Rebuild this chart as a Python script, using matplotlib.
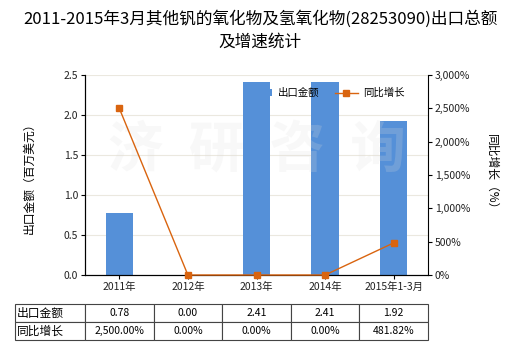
import numpy as np
import matplotlib
matplotlib.use("Agg")
import matplotlib.pyplot as plt
from matplotlib.ticker import FuncFormatter

plt.rcParams['font.family'] = ['Noto Sans CJK SC', 'DejaVu Sans']

years = ['2011年', '2012年', '2013年', '2014年', '2015年1-3月']
export_values = [0.78, 0.00, 2.41, 2.41, 1.92]
growth_rates = [2500.00, 0.00, 0.00, 0.00, 481.82]
export_labels = ['0.78', '0.00', '2.41', '2.41', '1.92']
growth_labels = ['2,500.00%', '0.00%', '0.00%', '0.00%', '481.82%']

bar_color = '#5590d8'
line_color = '#d9640f'

fig = plt.figure(figsize=(5.2, 3.5), dpi=100)
ax = fig.add_axes([85/520, 75/350, 343/520, 200/350])
ax2 = ax.twinx()

x = np.arange(len(years))
bars = ax.bar(x, export_values, width=0.4, color=bar_color, zorder=2, label='出口金额')
ax.set_xlim(-0.5, len(years) - 0.5)
ax.set_ylim(0, 2.5)
ax.set_yticks(np.arange(0, 2.51, 0.5))
ax.yaxis.set_major_formatter(FuncFormatter(lambda v, p: f'{v:.1f}'))
ax.set_xticks(x)
ax.set_xticklabels(years)
ax.grid(axis='y', color='#ebe8df', linewidth=0.8, zorder=0)
ax.set_axisbelow(True)

# faint watermark
ax.text(0.5, 0.62, '济  研  咨  询', transform=ax.transAxes, ha='center', va='center',
        fontsize=40, color='#dddddd', alpha=0.2, fontweight='bold', zorder=3)

line, = ax2.plot(x, growth_rates, color=line_color, linewidth=1, marker='s',
                 markersize=4.5, clip_on=False, zorder=4, label='同比增长')
ax2.set_ylim(0, 3000)
ax2.set_yticks(np.arange(0, 3001, 500))
ax2.yaxis.set_major_formatter(FuncFormatter(lambda v, p: f'{int(v):,}%'))

for a in (ax, ax2):
    a.spines['top'].set_visible(False)
    a.tick_params(labelsize=7.5, length=3, color='black', labelcolor='#222222', pad=2)
ax.spines['right'].set_visible(False)

ax.set_ylabel('出口金额（百万美元）', fontsize=8.5, labelpad=20)
ax2.set_ylabel('同比增长（%）', fontsize=8.5, rotation=-90, labelpad=20)

fig.suptitle('2011-2015年3月其他钒的氧化物及氢氧化物(28253090)出口总额\n及增速统计',
             fontsize=12, y=0.97, linespacing=1.45)

fig.legend(handles=[bars, line], loc='center', bbox_to_anchor=(327/520, 257/350),
           ncol=2, frameon=False, fontsize=7.5, handlelength=2.2, columnspacing=1.5,
           handletextpad=0.5)

# data table under the chart
cell_text = [['出口金额'] + export_labels, ['同比增长'] + growth_labels]
col_w = [70/413] + [68.6/413] * len(years)
tbl = ax.table(cellText=cell_text, colWidths=col_w, cellLoc='center',
               bbox=[-70/343, -65/200, 413/343, 36/200])
tbl.auto_set_font_size(False)
tbl.set_fontsize(7.5)
for (r, c), cell in tbl.get_celld().items():
    cell.set_edgecolor('#444444')
    cell.set_linewidth(0.8)
    if c == 0:
        cell.set_text_props(ha='left', fontsize=8.5)
        cell.PAD = 0.03

fig.savefig('out.png', dpi=100)
